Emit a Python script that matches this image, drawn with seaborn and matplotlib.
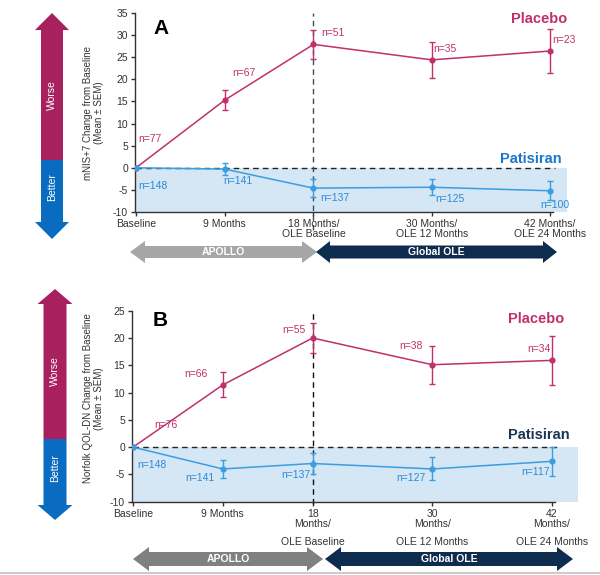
import matplotlib
matplotlib.use("Agg")
import matplotlib.pyplot as plt
from matplotlib.patches import Polygon
import seaborn as sns
import pandas as pd

# ---- data ----
months = [0, 9, 18, 30, 42]

a_placebo = [0, 15.3, 27.9, 24.4, 26.4]
a_placebo_sem = [0, 2.2, 3.3, 4.1, 5.0]
a_patisiran = [0, -0.3, -4.6, -4.4, -5.2]
a_patisiran_sem = [0, 1.3, 2.0, 1.8, 2.1]
a_placebo_n = [77, 67, 51, 35, 23]
a_patisiran_n = [148, 141, 137, 125, 100]

b_placebo = [0, 11.4, 20.0, 15.1, 15.9]
b_placebo_sem = [0, 2.3, 2.7, 3.5, 4.5]
b_patisiran = [0, -4.0, -3.0, -4.0, -2.6]
b_patisiran_sem = [0, 1.6, 2.0, 2.1, 2.7]
b_placebo_n = [76, 66, 55, 38, 34]
b_patisiran_n = [148, 141, 137, 127, 117]

a_ticklabels = ["Baseline", "9 Months", "18 Months/\nOLE Baseline",
                "30 Months/\nOLE 12 Months", "42 Months/\nOLE 24 Months"]
b_ticklabels = ["Baseline", "9 Months", "18\nMonths/", "30\nMonths/", "42\nMonths/"]
b_ticklabels2 = ["OLE Baseline", "OLE 12 Months", "OLE 24 Months"]

# n= label positions (month, value)
a_pla_lab = [(0.2, 6.4), (9.8, 21.4), (18.8, 30.4), (30.2, 26.8), (42.2, 28.8)]
a_pat_lab = [(0.2, -4.1), (8.9, -3.1), (18.7, -6.8), (30.4, -7.0), (41.0, -8.5)]
b_pla_lab = [(2.1, 4.0), (5.1, 13.4), (15.0, 21.5), (26.7, 18.6), (39.5, 18.0)]
b_pat_lab = [(0.4, -3.2), (5.2, -5.7), (14.9, -5.1), (26.4, -5.7), (38.9, -4.6)]

PLA = "#c0306c"
PAT = "#3a9ee0"
SHADE = "#d5e6f5"

sns.set_theme(style="white")
plt.rcParams["font.family"] = ["Liberation Sans", "DejaVu Sans"]
plt.rcParams["axes.unicode_minus"] = False

fig = plt.figure(figsize=(6, 5.75), dpi=100)


def draw_panel(ax, pla, pla_sem, pat, pat_sem, pla_n, pat_n, pla_lab, pat_lab,
               ylim, yticks, xmax, ylabel, letter, letter_pos, pla_pos, pat_pos,
               pat_txt_color, vcolor, vmin, ticklabels):
    ax.set_facecolor("none")
    ax.fill_between([0, xmax], ylim[0], 0, color=SHADE, lw=0, zorder=0)
    ax.hlines(0, 0, 42.5, colors="#222222", linestyles=(0, (4, 3)), lw=1, zorder=1)
    ax.axvline(18, ymin=vmin, ymax=1, color=vcolor, ls=(0, (4, 3)), lw=1,
               clip_on=False, zorder=1)

    df = pd.DataFrame({
        "month": months * 2,
        "value": pla + pat,
        "arm": ["Placebo"] * len(months) + ["Patisiran"] * len(months),
    })
    sns.lineplot(data=df, x="month", y="value", hue="arm",
                 palette={"Placebo": PLA, "Patisiran": PAT},
                 marker="o", markersize=4.5, markeredgewidth=0, lw=1.1,
                 legend=False, ax=ax, zorder=3)
    ax.errorbar(months[1:], pla[1:], yerr=pla_sem[1:], fmt="none", ecolor=PLA,
                elinewidth=1, capsize=2.5, capthick=1, zorder=3)
    ax.errorbar(months[1:], pat[1:], yerr=pat_sem[1:], fmt="none", ecolor=PAT,
                elinewidth=1, capsize=2.5, capthick=1, zorder=3)

    for n, (x, y) in zip(pla_n, pla_lab):
        ax.text(x, y, f"n={n}", color=PLA, fontsize=7.5, va="center", ha="left")
    for n, (x, y) in zip(pat_n, pat_lab):
        ax.text(x, y, f"n={n}", color="#2a8ad6", fontsize=7.5, va="center", ha="left")

    ax.text(*pla_pos, "Placebo", color=PLA, fontsize=10.5, fontweight="bold", va="center")
    ax.text(*pat_pos, "Patisiran", color=pat_txt_color, fontsize=10.5,
            fontweight="bold", va="center")
    ax.text(*letter_pos, letter, color="black", fontsize=15, fontweight="bold",
            va="center", ha="left")

    ax.set_xlim(-0.1, xmax)
    ax.set_ylim(*ylim)
    ax.set_yticks(yticks)
    ax.set_xticks(months)
    ax.set_xticklabels(ticklabels, linespacing=1.0)
    ax.set_xlabel("")
    ax.set_ylabel(ylabel, fontsize=7, color="#333333", linespacing=1.1)
    for s in ["top", "right"]:
        ax.spines[s].set_visible(False)
    for s in ["left", "bottom"]:
        ax.spines[s].set_color("#333333")
        ax.spines[s].set_linewidth(1)
    ax.spines["bottom"].set_bounds(-0.1, 42.3)
    ax.tick_params(axis="both", direction="out", length=3, width=1, color="#333333",
                   labelsize=7.5, labelcolor="#333333", pad=2, bottom=True, left=True)
    ax.grid(False)


# panel A
axA = fig.add_axes([135 / 600, (575 - 212) / 575, 432 / 600, 199 / 575])
draw_panel(axA, a_placebo, a_placebo_sem, a_patisiran, a_patisiran_sem,
           a_placebo_n, a_patisiran_n, a_pla_lab, a_pat_lab,
           (-10, 35), range(-10, 36, 5), 43.72,
           "mNIS+7 Change from Baseline\n(Mean ± SEM)", "A", (1.8, 31.5),
           (38.0, 33.7), (36.9, 1.9), "#1a78cc", "#3d4d5d", -0.09, a_ticklabels)
axA.yaxis.set_label_coords(-0.072, 0.5)

# panel B
axB = fig.add_axes([132 / 600, (575 - 501.7) / 575, 446 / 600, 191 / 575])
draw_panel(axB, b_placebo, b_placebo_sem, b_patisiran, b_patisiran_sem,
           b_placebo_n, b_patisiran_n, b_pla_lab, b_pat_lab,
           (-10, 25), range(-10, 26, 5), 44.6,
           "Norfolk QOL-DN Change from Baseline\n(Mean ± SEM)", "B", (2.0, 23.2),
           (37.6, 23.4), (37.6, 2.25), "#1c3553", "#111111", -0.01, b_ticklabels)
axB.yaxis.set_label_coords(-0.063, 0.54)
for m, lab in zip(months[2:], b_ticklabels2):
    axB.text(m, -0.21, lab, transform=axB.get_xaxis_transform(), ha="center",
             va="center", fontsize=7.5, color="#333333")

# ---- decorations in pixel space ----
ov = fig.add_axes([0, 0, 1, 1])
ov.set_xlim(0, 600)
ov.set_ylim(575, 0)
ov.axis("off")
ov.set_zorder(-1)


def vert_arrow(cx, top, split, bottom, sw, hw, hh):
    up = [(cx - sw / 2, split), (cx - sw / 2, top + hh), (cx - hw / 2, top + hh), (cx, top),
          (cx + hw / 2, top + hh), (cx + sw / 2, top + hh), (cx + sw / 2, split)]
    dn = [(cx - sw / 2, split), (cx - sw / 2, bottom - hh), (cx - hw / 2, bottom - hh),
          (cx, bottom), (cx + hw / 2, bottom - hh), (cx + sw / 2, bottom - hh),
          (cx + sw / 2, split)]
    ov.add_patch(Polygon(up, closed=True, color="#a8215e", lw=0))
    ov.add_patch(Polygon(dn, closed=True, color="#0a6cc0", lw=0))
    ov.text(cx, (top + hh + split) / 2, "Worse", rotation=90, color="white",
            fontsize=7.5, ha="center", va="center")
    ov.text(cx, (split + bottom - hh) / 2 - 4, "Better", rotation=90, color="white",
            fontsize=7.5, ha="center", va="center")


def horiz_arrow(x0, x1, cy, sh, hh, hl, color, label):
    pts = [(x0, cy), (x0 + hl, cy - hh), (x0 + hl, cy - sh), (x1 - hl, cy - sh),
           (x1 - hl, cy - hh), (x1, cy), (x1 - hl, cy + hh), (x1 - hl, cy + sh),
           (x0 + hl, cy + sh), (x0 + hl, cy + hh)]
    ov.add_patch(Polygon(pts, closed=True, color=color, lw=0))
    ov.text((x0 + x1) / 2, cy, label, color="white", fontsize=7.5, fontweight="bold",
            ha="center", va="center")


vert_arrow(52, 13, 160, 239, 22, 34, 17)
vert_arrow(55, 289, 439, 520, 23, 35, 15)

horiz_arrow(130, 317, 252, 6, 11, 15, "#a6a6a6", "APOLLO")
horiz_arrow(316, 557, 252, 6.5, 11, 14, "#0e2d4e", "Global OLE")
horiz_arrow(133, 323, 559, 7, 12, 16, "#808080", "APOLLO")
horiz_arrow(325, 573, 559, 7, 12, 16, "#0e2d4e", "Global OLE")

ov.plot([0, 600], [573, 573], color="#cccccc", lw=1.5)

fig.savefig("out.png", dpi=100)
